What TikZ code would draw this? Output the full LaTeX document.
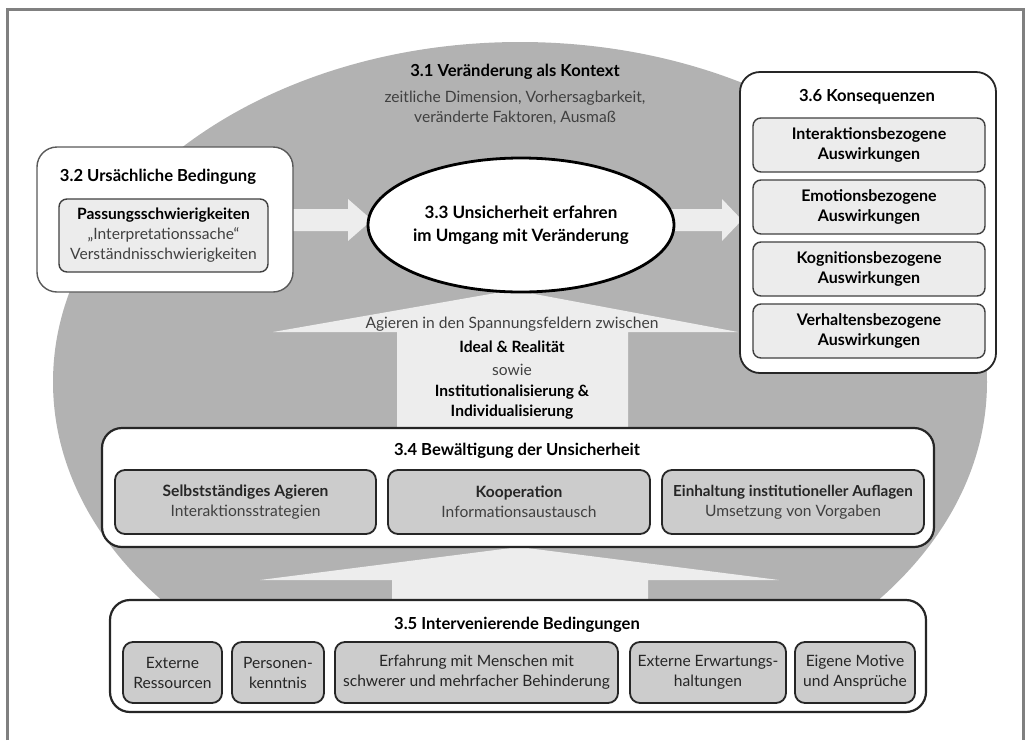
\documentclass[tikz,border=0pt]{standalone}
\usepackage{fontspec}
\setmainfont{Lato}
\usetikzlibrary{shapes.geometric}
\definecolor{ctxgray}{gray}{0.70}
\definecolor{arrowfill}{gray}{0.93}
\definecolor{lightbox}{gray}{0.925}
\definecolor{darkbox}{gray}{0.80}
\definecolor{subtext}{gray}{0.25}
\definecolor{framecol}{gray}{0.5}
\newcommand{\fsz}{\fontsize{15.6}{20}\selectfont}
\newcommand{\fszt}{\fontsize{16.6}{20}\selectfont}
\tikzset{
  bigbox/.style={draw=black!85, line width=1.8pt, fill=white, rounded corners=20pt, inner sep=0pt},
  lbox/.style={draw=black!75, line width=1.4pt, fill=lightbox, rounded corners=8pt, align=center, inner sep=0pt, font=\fontsize{16}{20}\selectfont\bfseries},
  dbox/.style={draw=black!85, line width=1.8pt, fill=darkbox, rounded corners=10pt, align=center, inner sep=0pt, font=\fsz, text=black!85},
  ttl/.style={font=\fszt\bfseries, inner sep=0pt, align=center},
  ttlb/.style={font=\fsz\bfseries, inner sep=0pt, align=center},
  subtxt/.style={font=\fsz, text=subtext, align=center, inner sep=0pt},
  blockarrow/.style={fill=arrowfill},
}
\begin{document}
\begin{tikzpicture}[x=1pt,y=-1pt]
\useasboundingbox (0,0) rectangle (1029,740);
\draw[framecol, line width=3pt] (7.5,740) -- (7.5,9.5) -- (1023.5,9.5) -- (1023.5,740);
\begin{scope}
  \clip (0,0) rectangle (1029,599);
  \fill[ctxgray] (520,382) ellipse [x radius=467, y radius=340];
\end{scope}
% block arrows
\fill[blockarrow] (397,430) -- (397,332) -- (273,332) -- (513,290) -- (738,332) -- (628,332) -- (628,430) -- cycle;
\fill[blockarrow] (392,601) -- (392,580) -- (260,580) -- (519,547) -- (779,580) -- (648,580) -- (648,601) -- cycle;
\fill[blockarrow] (290,209) -- (348,209) -- (348,199) -- (372,220) -- (348,241) -- (348,231) -- (290,231) -- cycle;
\fill[blockarrow] (670,209) -- (722,209) -- (722,199) -- (742,220) -- (722,241) -- (722,231) -- (670,231) -- cycle;
% 3.1
\node[ttl] (t31) at (515,72) {3.1 Veränderung als Kontext};
\node[subtxt] (t31s) at (515,108) {zeitliche Dimension, Vorhersagbarkeit,\\veränderte Faktoren, Ausmaß};
% 3.2
\node[bigbox, draw=black!65, line width=1.4pt, minimum width=256pt, minimum height=145pt] (b32) at (165,219.5) {};
\node[ttl] (t32) at (158,177) {3.2 Ursächliche Bedingung};
\node[lbox, font=\fsz, minimum width=209pt, minimum height=73pt] (p32) at (163.5,235.5)
  {\textbf{Passungsschwierigkeiten}\\{\color{subtext}„Interpretationssache“}\\{\color{subtext}Verständnisschwierigkeiten}};
% 3.3
\node[ellipse, draw=black, line width=2.8pt, fill=white, minimum width=306pt, minimum height=134pt, inner sep=0pt,
  align=center, font=\fontsize{17}{23}\selectfont\bfseries] (e33) at (521,225)
  {3.3 Unsicherheit erfahren\\im Umgang mit Veränderung};
% 3.6
\node[bigbox, minimum width=256pt, minimum height=301pt] (b36) at (868,222.5) {};
\node[ttl] (t36) at (867,97) {3.6 Konsequenzen};
\node[lbox, minimum width=232pt, minimum height=54pt] (k1) at (869,145) {Interaktionsbezogene\\Auswirkungen};
\node[lbox, minimum width=232pt, minimum height=54pt] (k2) at (869,207) {Emotionsbezogene\\Auswirkungen};
\node[lbox, minimum width=232pt, minimum height=54pt] (k3) at (869,269) {Kognitionsbezogene\\Auswirkungen};
\node[lbox, minimum width=232pt, minimum height=54pt] (k4) at (869,331) {Verhaltensbezogene\\Auswirkungen};
% Spannungsfelder
\node[subtxt] (ag) at (512,324) {Agieren in den Spannungsfeldern zwischen};
\node[ttlb] (ir) at (512,347) {Ideal \& Realität};
\node[subtxt] (sw) at (512,370) {sowie};
\node[ttlb] (ii) at (512,402) {Institutionalisierung \&\\Individualisierung};
% 3.4
\node[bigbox, line width=2.2pt, minimum width=832pt, minimum height=119pt] (b34) at (518,487.5) {};
\node[ttl] (t34) at (517,451) {3.4 Bewältigung der Unsicherheit};
\node[dbox, minimum width=261pt, minimum height=64pt] (s1) at (245.5,502) {\textbf{Selbstständiges Agieren}\\{\color{subtext}Interaktionsstrategien}};
\node[dbox, minimum width=262pt, minimum height=64pt] (s2) at (519,502) {\textbf{Kooperation}\\{\color{subtext}Informationsaustausch}};
\node[dbox, minimum width=262pt, minimum height=64pt] (s3) at (793,502) {\textbf{\fontsize{15.2}{20}\selectfont Einhaltung institutioneller Auflagen}\\{\color{subtext}Umsetzung von Vorgaben}};
% 3.5
\node[bigbox, line width=2.2pt, minimum width=816pt, minimum height=112pt] (b35) at (518,656) {};
\node[ttl] (t35) at (517,625) {3.5 Intervenierende Bedingungen};
\node[dbox, minimum width=99pt, minimum height=61pt] (i1) at (172.5,672.5) {Externe\\Ressourcen};
\node[dbox, minimum width=92pt, minimum height=61pt] (i2) at (278,672.5) {Personen-\\kenntnis};
\node[dbox, minimum width=283pt, minimum height=61pt] (i3) at (476.5,672.5) {Erfahrung mit Menschen mit\\schwerer und mehrfacher Behinderung};
\node[dbox, minimum width=156pt, minimum height=61pt] (i4) at (708,672.5) {Externe Erwartungs-\\haltungen};
\node[dbox, minimum width=120pt, minimum height=61pt] (i5) at (855,672.5) {Eigene Motive\\und Ansprüche};
\end{tikzpicture}
\end{document}
